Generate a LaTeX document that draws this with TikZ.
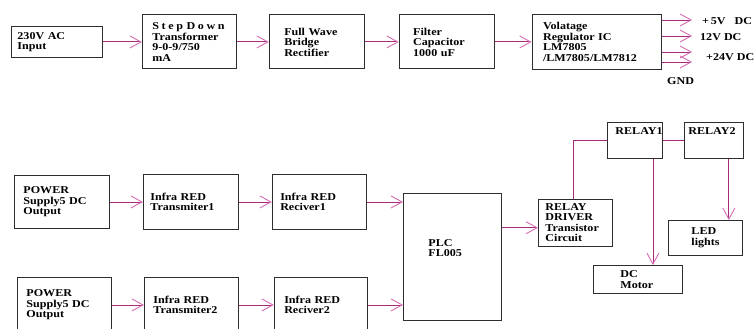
\documentclass[tikz,border=0pt]{standalone}
\usepackage{fontspec}
\usepackage{xcolor}
\usepackage{tikz}
\usetikzlibrary{arrows.meta, positioning}
\setmainfont{Liberation Serif}[FakeStretch=1.15]
\definecolor{wirepink}{RGB}{168,42,122}
\definecolor{headpink}{RGB}{214,108,178}
\definecolor{boxedge}{RGB}{45,45,45}

\begin{document}
\begin{tikzpicture}[
    x=1pt,
    y=-1pt,
    block/.style={
        rectangle,
        draw=boxedge,
        line width=0.9pt,
        align=left,
        inner xsep=7pt,
        inner ysep=4pt,
        font=\fontsize{10.5}{10.5}\selectfont\bfseries
    },
    arrow/.style={
        draw=wirepink,
        line width=0.9pt,
        -{Straight Barb[length=11pt,width=12pt,line width=0.9pt,color=headpink]}
    },
    link/.style={
        draw=wirepink,
        line width=0.9pt
    },
    outlabel/.style={
        anchor=west,
        inner sep=0pt,
        font=\fontsize{10.5}{10.5}\selectfont\bfseries
    }
]
\clip (0,0) rectangle (756,329);
% POWER SUPPLY ROW
\node (input) [block, anchor=north west, inner xsep=6pt, text width=79pt, minimum height=31pt] at (11,26) {230V AC\\Input};
\node (step) [block, right=39pt of input, inner xsep=10pt, text width=74pt, minimum height=54pt] {{\addfontfeature{LetterSpace=25}Step~Down}\\Transformer\\9-0-9/750\\mA};
\node (rect) [block, right=32pt of step, inner xsep=15pt, text width=65pt, minimum height=54pt] {Full Wave\\Bridge\\Rectifier};
\node (filter) [block, right=34pt of rect, inner xsep=14pt, text width=67pt, minimum height=54pt] {Filter\\Capacitor\\1000 uF};
\node (reg) [block, right=37pt of filter, inner xsep=11pt, text width=107pt, minimum height=55pt] {Volatage\\Regulator IC\\LM7805\\/LM7805/LM7812};
% REGULATOR OUTPUTS
\coordinate (out5) at (692,20);
\coordinate (out12) at (692,36);
\coordinate (out24) at (692,52);
\coordinate (outgnd) at (692,62);
\node (lab5) [outlabel] at (702,21) {+\,5V\hspace{9pt}DC};
\node (lab12) [outlabel] at (700,37) {12V DC};
\node (lab24) [outlabel] at (706,57) {+24V DC};
\node (labgnd) [outlabel] at (667,81) {GND};
% TOP ROW ARROWS
\draw [arrow] (input.east) -- (step.west);
\draw [arrow] (step.east) -- (rect.west);
\draw [arrow] (rect.east) -- (filter.west);
\draw [arrow] (filter.east) -- (reg.west);
\draw [arrow] (reg.east |- out5) -- (out5);
\draw [arrow] (reg.east |- out12) -- (out12);
\draw [arrow] (reg.east |- out24) -- (out24);
\draw [arrow] (reg.east |- outgnd) -- (outgnd);
% SENSOR ROW 1
\node (power1) [block, anchor=north west, inner xsep=9pt, text width=77pt, minimum height=53pt] at (14,175) {POWER\\Supply5 DC\\Output};
\node (tx1) [block, right=33pt of power1, text width=81pt, minimum height=55pt] {Infra RED\\Transmiter1};
\node (rx1) [block, right=33pt of tx1, inner xsep=8pt, text width=78pt, minimum height=55pt] {Infra RED\\Reciver1};
% SENSOR ROW 2
\node (power2) [block, anchor=north west, inner xsep=9pt, text width=76pt, minimum height=55pt] at (17,277) {POWER\\Supply5 DC\\Output};
\node (tx2) [block, right=32pt of power2, inner xsep=9pt, text width=76pt, minimum height=55pt] {Infra RED\\Transmiter2};
\node (rx2) [block, right=35pt of tx2, inner xsep=10pt, text width=73pt, minimum height=55pt] {Infra RED\\Reciver2};
% CONTROLLER AND LOADS
\node (plc) [block, anchor=north west, inner xsep=25pt, text width=48pt, text height=49pt, text depth=70pt] at (403,193) {PLC\\FL005};
\node (driver) [block, anchor=north west, text width=60pt, minimum height=46pt] at (538,199) {RELAY\\DRIVER\\Transistor\\Circuit};
\node (relay1) [block, anchor=north west, inner xsep=8pt, text width=39pt, text height=8pt, text depth=20pt] at (607,122) {RELAY1};
\node (relay2) [block, right=21pt of relay1, inner xsep=4pt, text width=51pt, text height=8pt, text depth=20pt] {RELAY2};
\node (motor) [block, anchor=north west, inner xsep=27pt, text width=35pt, minimum height=28pt] at (593,265) {DC\\Motor};
\node (led) [block, anchor=north west, inner xsep=23pt, text width=28pt, minimum height=35pt] at (668,220) {LED\\lights};
% SENSOR ARROWS
\draw [arrow] (power1.east) -- (tx1.west);
\draw [arrow] (tx1.east) -- (rx1.west);
\draw [arrow] (rx1.east) -- (rx1.east -| plc.west);
\draw [arrow] (power2.east) -- (tx2.west);
\draw [arrow] (tx2.east) -- (rx2.west);
\draw [arrow] (rx2.east) -- (rx2.east -| plc.west);
% RELAY WIRING
\draw [arrow] ([yshift=-5pt]driver.west -| plc.east) -- ([yshift=-5pt]driver.west);
\draw [link] ([xshift=-2pt]driver.north) |- (relay1.west);
\draw [link] (relay1.east) -- (relay2.west);
\draw [arrow] ([xshift=18pt]relay1.south) -- ([xshift=18pt]relay1.south |- motor.north);
\draw [arrow] ([xshift=15pt]relay2.south) -- ([xshift=15pt]relay2.south |- led.north);
\end{tikzpicture}
\end{document}
